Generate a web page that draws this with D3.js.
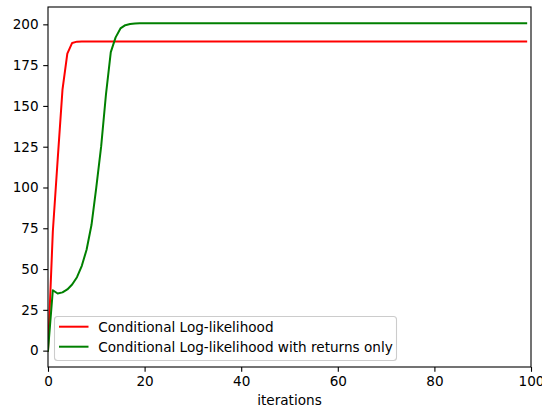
<!DOCTYPE html>
<html>
<head>
<meta charset="utf-8">
<script src="https://cdn.jsdelivr.net/npm/d3@7"></script>
<style>
  html, body { margin: 0; padding: 0; background: #fff; }
  svg { display: block; }
  text { font-family: "DejaVu Sans", sans-serif; }
</style>
</head>
<body>
<svg id="chart" width="542" height="412"></svg>
<script>
// Log-likelihood per iteration for two model variants
const seriesNames = ["Conditional Log-likelihood", "Conditional Log-likelihood with returns only"];
const seriesColors = ["#ff0000", "#008000"];

// First iterations of each run; both stay flat afterwards
const headFull = [0, 73, 117, 160, 182, 188.6, 189.4];
const plateauFull = 189.5;
const headReturns = [0, 37, 35, 35.7, 37.5, 40.5, 45, 52, 62, 77, 100, 125, 157, 183, 192, 197.5, 199.5, 200.2, 200.5];
const plateauReturns = 200.6;
const nIterations = 100;

const xTicks = [0, 20, 40, 60, 80, 100];
const yTicks = [0, 25, 50, 75, 100, 125, 150, 175, 200];

function fullSeries(head, plateau) {
  const out = [];
  for (let i = 0; i < nIterations; i++) out.push(i < head.length ? head[i] : plateau);
  return out;
}
const valuesFull = fullSeries(headFull, plateauFull);
const valuesReturns = fullSeries(headReturns, plateauReturns);
const allSeries = [valuesFull, valuesReturns];

const svg = d3.select("#chart");
const margin = { left: 48, right: 11, top: 7, bottom: 45 };
const W = 542, H = 412;
const plotW = W - margin.left - margin.right;
const plotH = H - margin.top - margin.bottom;

const yMin = d3.min(allSeries, s => d3.min(s));
const yMax = d3.max(allSeries, s => d3.max(s));
const pad = (yMax - yMin) * 0.05;

const x = d3.scaleLinear().domain([0, 100]).range([margin.left, margin.left + plotW]);
const y = d3.scaleLinear().domain([yMin - pad, yMax + pad]).range([margin.top + plotH, margin.top]);

const fontPx = 13.6;

// Lines
const g = svg.append("g");
svg.append("clipPath").attr("id", "clip")
  .append("rect").attr("x", margin.left).attr("y", margin.top).attr("width", plotW).attr("height", plotH);
const line = d3.line().x((d, i) => x(i)).y(d => y(d));
allSeries.forEach((s, k) => {
  g.append("path")
    .datum(s)
    .attr("d", line)
    .attr("fill", "none")
    .attr("stroke", seriesColors[k])
    .attr("stroke-width", 2)
    .attr("stroke-linejoin", "round")
    .attr("stroke-linecap", "square")
    .attr("clip-path", "url(#clip)");
});

// Axes
const xAxis = d3.axisBottom(x).tickValues(xTicks).tickSize(4.8).tickPadding(4.6).tickFormat(d3.format("d"));
const yAxis = d3.axisLeft(y).tickValues(yTicks).tickSize(4.8).tickPadding(4.6).tickFormat(d3.format("d"));

const gx = svg.append("g").attr("transform", `translate(0,${margin.top + plotH})`).call(xAxis);
const gy = svg.append("g").attr("transform", `translate(${margin.left},0)`).call(yAxis);
[gx, gy].forEach(a => {
  a.select(".domain").remove();
  a.selectAll(".tick line").attr("stroke", "#000").attr("stroke-width", 1.1);
  a.selectAll(".tick text").attr("fill", "#000").style("font-size", fontPx + "px").style("font-family", "DejaVu Sans, sans-serif");
});

// Frame
svg.append("rect")
  .attr("x", margin.left).attr("y", margin.top)
  .attr("width", plotW).attr("height", plotH)
  .attr("fill", "none").attr("stroke", "#000").attr("stroke-width", 1.1);

// Axis label
svg.append("text")
  .attr("x", margin.left + plotW / 2)
  .attr("y", 405)
  .attr("text-anchor", "middle")
  .style("font-size", fontPx + "px")
  .text("iterations");

// Legend
const legend = svg.append("g");
legend.append("rect")
  .attr("x", 54.5).attr("y", 316.5)
  .attr("width", 342).attr("height", 44)
  .attr("rx", 3).attr("ry", 3)
  .attr("fill", "rgba(255,255,255,0.8)")
  .attr("stroke", "#cccccc").attr("stroke-width", 1.1);
seriesNames.forEach((name, k) => {
  const ly = 326.7 + k * 20;
  legend.append("line")
    .attr("x1", 59).attr("x2", 88.5)
    .attr("y1", ly).attr("y2", ly)
    .attr("stroke", seriesColors[k]).attr("stroke-width", 2);
  legend.append("text")
    .attr("x", 98.3).attr("y", ly)
    .attr("dy", "0.36em")
    .style("font-size", fontPx + "px")
    .attr("fill", "#000")
    .text(name);
});
</script>
</body>
</html>
